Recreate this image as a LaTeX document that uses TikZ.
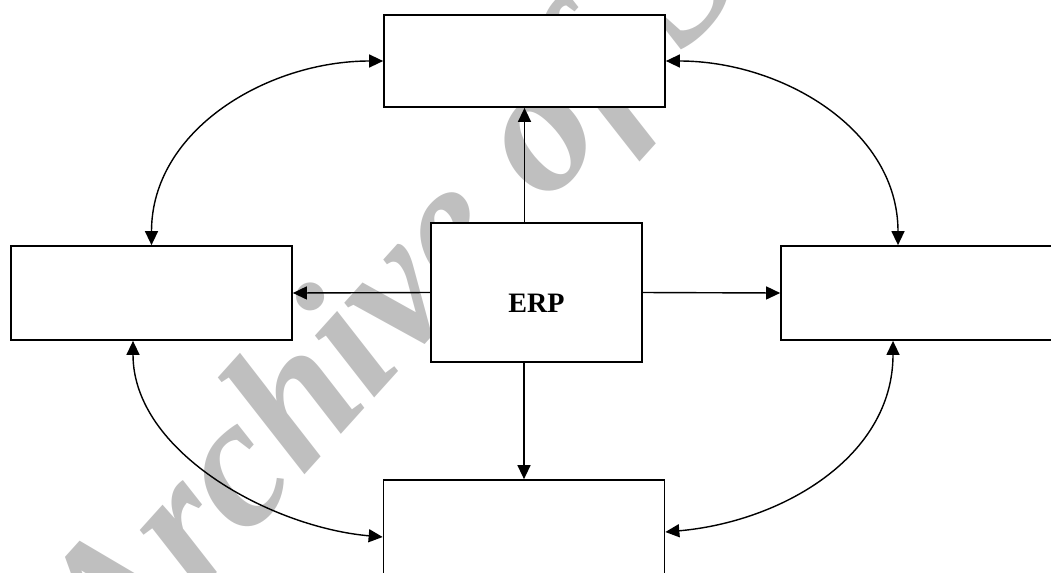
\documentclass[tikz,border=0pt]{standalone}
\usepackage{fontspec}
\setmainfont{Liberation Serif}
\newfontfamily\wmfont{Liberation Serif Bold Italic}
\newfontfamily\erpfont{Liberation Serif Bold}
\usetikzlibrary{arrows.meta}
\usetikzlibrary{positioning}

\tikzset{
  blockbox/.style={draw,fill=white,line width=1pt,inner sep=0pt,minimum width=5.62cm,minimum height=1.88cm},
  link/.style={line width=0.8pt,>={Triangle[length=0.28cm,width=0.26cm]}}
}

\begin{document}
\begin{tikzpicture}[x=0.02cm,y=-0.02cm]
\useasboundingbox (0,0) rectangle (1051,572);
\node[rotate=48,anchor=base,text=black!25,font=\wmfont\fontsize{106}{106}\selectfont] (wmark) at (503,255) {Archive of SID};

\node[blockbox,minimum height=1.84cm] (top) at (524.5,61) {};
\node[blockbox] (left) at (151.5,293) {};
\node[blockbox] (right) at (921.5,293) {};
\node[blockbox,minimum height=2cm] (bottom) at (524,530) {};
\node[blockbox,minimum width=4.22cm,minimum height=2.78cm,text height=0.78cm,text depth=0pt,font=\erpfont\fontsize{16}{19}\selectfont] (erp) at (536.5,292.5) {ERP};

\draw[link,->] (erp.north -| top.south) -- (top.south);
\draw[link,->] (erp.south -| bottom.north) -- (bottom.north);
\draw[link,->] (erp.west) -- (left.east);
\draw[link,->] (erp.east) -- (right.west);

\draw[link,<->] (top.west) to[out=180,in=90] (left.north);
\draw[link,<->] (top.east) to[out=0,in=90] ([xshift=-0.47cm]right.north);
\draw[link,<->] ([xshift=-0.37cm]left.south) to[out=-90,in=175,looseness=0.9] ([yshift=-0.14cm]bottom.west);
\draw[link,<->] ([xshift=-0.57cm]right.south) to[out=-90,in=5] ([yshift=-0.04cm]bottom.east);
\end{tikzpicture}
\end{document}
